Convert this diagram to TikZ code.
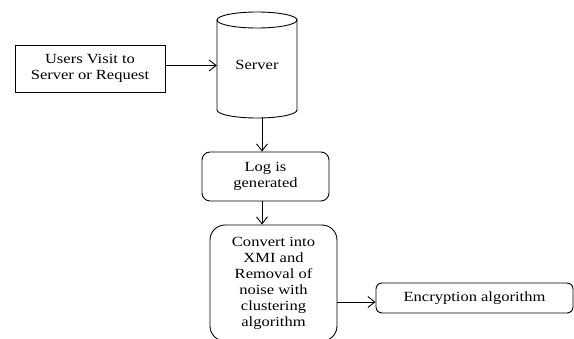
\documentclass[tikz,border=0pt]{standalone}
\usepackage{fontspec}
\setmainfont{Liberation Serif}[FakeStretch=1.18]
\usetikzlibrary{arrows.meta}
\begin{document}
\begin{tikzpicture}[x=1pt,y=-1pt,
  every node/.style={font=\fontsize{14}{16}\selectfont, align=center, inner sep=0pt},
  plainbox/.style={draw, line width=0.9pt, rectangle, minimum width=#1},
  roundbox/.style={draw, line width=0.9pt, rectangle, rounded corners=#1},
  conn/.style={line width=0.9pt, -{Straight Barb[length=7pt,width=11pt]}},
  plainline/.style={line width=0.9pt}]
\clip (0,0) rectangle (574,338);
\fill[white] (0,0) rectangle (574,338);
% Users box
\node[plainbox=150pt, minimum height=47pt] (users) at (90,68.5) {Users Visit to\\Server or Request};
% Server cylinder
\node[minimum width=80pt, minimum height=106pt] (server) at (257,65) {Server};
\draw[plainline] (217,20) -- (217,110) arc[start angle=180, end angle=360, x radius=40, y radius=-8] -- (297,20);
\draw[plainline] (257,20) ellipse[x radius=40, y radius=8];
% Log box
\node[roundbox=8pt, minimum width=127pt, minimum height=49pt] (log) at (265.5,176.5) {Log is\\generated};
% Convert box
\node[roundbox=15pt, minimum width=127pt, minimum height=116pt] (conv) at (273.5,283) {Convert into\\XMI and\\Removal of\\noise with\\clustering\\algorithm};
% Encryption box
\node[roundbox=6pt, minimum width=197pt, minimum height=30pt] (enc) at (474.5,298) {Encryption algorithm};
\coordinate (a) at (262,0);
\coordinate (b) at (0,302);
\coordinate (c) at (0,65.5);
% connectors
\draw[conn] (users.east |- c) -- (server.west |- c);
\draw[conn] (a |- server.south) -- (a |- log.north);
\draw[conn] (a |- log.south) -- (a |- conv.north);
\draw[conn] (conv.east |- b) -- (enc.west |- b);
\end{tikzpicture}
\end{document}
